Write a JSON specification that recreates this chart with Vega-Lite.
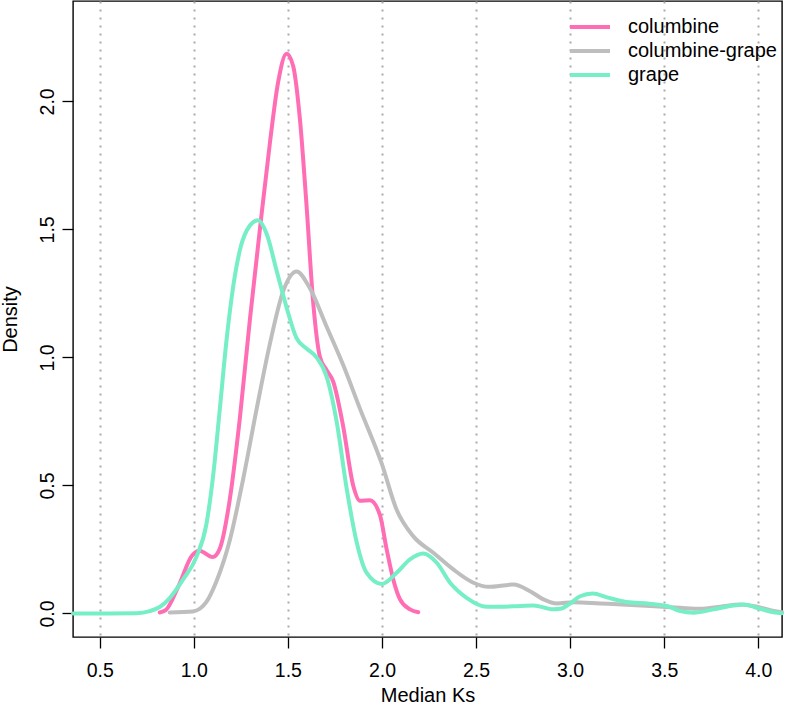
{
  "$schema": "https://vega.github.io/schema/vega-lite/v6.json",
  "width": 709,
  "height": 636,
  "autosize": {"type": "none"},
  "padding": {"left": 73, "top": 1, "right": 3, "bottom": 71},
  "background": "white",
  "config": {
    "view": {"stroke": "black", "strokeWidth": 1.4},
    "font": "Liberation Sans"
  },
  "data": {
    "values": [
      {"ks": 0.819, "density": 0.004, "group": "columbine"},
      {"ks": 0.851, "density": 0.013, "group": "columbine"},
      {"ks": 0.92, "density": 0.109, "group": "columbine"},
      {"ks": 0.99, "density": 0.225, "group": "columbine"},
      {"ks": 1.03, "density": 0.245, "group": "columbine"},
      {"ks": 1.1, "density": 0.22, "group": "columbine"},
      {"ks": 1.138, "density": 0.253, "group": "columbine"},
      {"ks": 1.191, "density": 0.444, "group": "columbine"},
      {"ks": 1.245, "density": 0.764, "group": "columbine"},
      {"ks": 1.298, "density": 1.147, "group": "columbine"},
      {"ks": 1.351, "density": 1.499, "group": "columbine"},
      {"ks": 1.404, "density": 1.835, "group": "columbine"},
      {"ks": 1.448, "density": 2.074, "group": "columbine"},
      {"ks": 1.493, "density": 2.186, "group": "columbine"},
      {"ks": 1.528, "density": 2.138, "group": "columbine"},
      {"ks": 1.564, "density": 1.93, "group": "columbine"},
      {"ks": 1.599, "density": 1.595, "group": "columbine"},
      {"ks": 1.635, "density": 1.21, "group": "columbine"},
      {"ks": 1.67, "density": 1.003, "group": "columbine"},
      {"ks": 1.706, "density": 0.95, "group": "columbine"},
      {"ks": 1.741, "density": 0.905, "group": "columbine"},
      {"ks": 1.794, "density": 0.73, "group": "columbine"},
      {"ks": 1.847, "density": 0.5, "group": "columbine"},
      {"ks": 1.883, "density": 0.44, "group": "columbine"},
      {"ks": 1.936, "density": 0.442, "group": "columbine"},
      {"ks": 1.989, "density": 0.385, "group": "columbine"},
      {"ks": 2.025, "density": 0.25, "group": "columbine"},
      {"ks": 2.06, "density": 0.133, "group": "columbine"},
      {"ks": 2.096, "density": 0.055, "group": "columbine"},
      {"ks": 2.149, "density": 0.016, "group": "columbine"},
      {"ks": 2.193, "density": 0.005, "group": "columbine"},

      {"ks": 0.872, "density": 0.004, "group": "columbine-grape"},
      {"ks": 0.996, "density": 0.008, "group": "columbine-grape"},
      {"ks": 1.067, "density": 0.045, "group": "columbine-grape"},
      {"ks": 1.12, "density": 0.125, "group": "columbine-grape"},
      {"ks": 1.191, "density": 0.285, "group": "columbine-grape"},
      {"ks": 1.262, "density": 0.524, "group": "columbine-grape"},
      {"ks": 1.333, "density": 0.795, "group": "columbine-grape"},
      {"ks": 1.404, "density": 1.052, "group": "columbine-grape"},
      {"ks": 1.475, "density": 1.259, "group": "columbine-grape"},
      {"ks": 1.546, "density": 1.336, "group": "columbine-grape"},
      {"ks": 1.617, "density": 1.27, "group": "columbine-grape"},
      {"ks": 1.706, "density": 1.12, "group": "columbine-grape"},
      {"ks": 1.794, "density": 0.97, "group": "columbine-grape"},
      {"ks": 1.883, "density": 0.8, "group": "columbine-grape"},
      {"ks": 1.998, "density": 0.587, "group": "columbine-grape"},
      {"ks": 2.078, "density": 0.405, "group": "columbine-grape"},
      {"ks": 2.167, "density": 0.301, "group": "columbine-grape"},
      {"ks": 2.273, "density": 0.237, "group": "columbine-grape"},
      {"ks": 2.379, "density": 0.172, "group": "columbine-grape"},
      {"ks": 2.486, "density": 0.12, "group": "columbine-grape"},
      {"ks": 2.566, "density": 0.104, "group": "columbine-grape"},
      {"ks": 2.699, "density": 0.113, "group": "columbine-grape"},
      {"ks": 2.787, "density": 0.087, "group": "columbine-grape"},
      {"ks": 2.858, "density": 0.055, "group": "columbine-grape"},
      {"ks": 2.929, "density": 0.039, "group": "columbine-grape"},
      {"ks": 3.018, "density": 0.044, "group": "columbine-grape"},
      {"ks": 3.16, "density": 0.039, "group": "columbine-grape"},
      {"ks": 3.3, "density": 0.034, "group": "columbine-grape"},
      {"ks": 3.45, "density": 0.028, "group": "columbine-grape"},
      {"ks": 3.585, "density": 0.022, "group": "columbine-grape"},
      {"ks": 3.691, "density": 0.018, "group": "columbine-grape"},
      {"ks": 3.798, "density": 0.026, "group": "columbine-grape"},
      {"ks": 3.904, "density": 0.035, "group": "columbine-grape"},
      {"ks": 3.993, "density": 0.026, "group": "columbine-grape"},
      {"ks": 4.064, "density": 0.013, "group": "columbine-grape"},
      {"ks": 4.126, "density": 0.005, "group": "columbine-grape"},

      {"ks": 0.358, "density": 0.0, "group": "grape"},
      {"ks": 0.55, "density": 0.0, "group": "grape"},
      {"ks": 0.695, "density": 0.001, "group": "grape"},
      {"ks": 0.766, "density": 0.009, "group": "grape"},
      {"ks": 0.819, "density": 0.025, "group": "grape"},
      {"ks": 0.872, "density": 0.06, "group": "grape"},
      {"ks": 0.943, "density": 0.133, "group": "grape"},
      {"ks": 1.014, "density": 0.221, "group": "grape"},
      {"ks": 1.067, "density": 0.349, "group": "grape"},
      {"ks": 1.103, "density": 0.54, "group": "grape"},
      {"ks": 1.138, "density": 0.796, "group": "grape"},
      {"ks": 1.174, "density": 1.068, "group": "grape"},
      {"ks": 1.209, "density": 1.275, "group": "grape"},
      {"ks": 1.245, "density": 1.419, "group": "grape"},
      {"ks": 1.298, "density": 1.515, "group": "grape"},
      {"ks": 1.342, "density": 1.536, "group": "grape"},
      {"ks": 1.387, "density": 1.483, "group": "grape"},
      {"ks": 1.44, "density": 1.339, "group": "grape"},
      {"ks": 1.493, "density": 1.195, "group": "grape"},
      {"ks": 1.546, "density": 1.075, "group": "grape"},
      {"ks": 1.599, "density": 1.035, "group": "grape"},
      {"ks": 1.652, "density": 1.0, "group": "grape"},
      {"ks": 1.706, "density": 0.925, "group": "grape"},
      {"ks": 1.759, "density": 0.75, "group": "grape"},
      {"ks": 1.812, "density": 0.49, "group": "grape"},
      {"ks": 1.865, "density": 0.28, "group": "grape"},
      {"ks": 1.918, "density": 0.159, "group": "grape"},
      {"ks": 1.998, "density": 0.115, "group": "grape"},
      {"ks": 2.078, "density": 0.159, "group": "grape"},
      {"ks": 2.149, "density": 0.211, "group": "grape"},
      {"ks": 2.219, "density": 0.234, "group": "grape"},
      {"ks": 2.291, "density": 0.198, "group": "grape"},
      {"ks": 2.362, "density": 0.12, "group": "grape"},
      {"ks": 2.45, "density": 0.061, "group": "grape"},
      {"ks": 2.556, "density": 0.026, "group": "grape"},
      {"ks": 2.699, "density": 0.028, "group": "grape"},
      {"ks": 2.805, "density": 0.031, "group": "grape"},
      {"ks": 2.911, "density": 0.016, "group": "grape"},
      {"ks": 2.947, "density": 0.018, "group": "grape"},
      {"ks": 3.0, "density": 0.039, "group": "grape"},
      {"ks": 3.053, "density": 0.067, "group": "grape"},
      {"ks": 3.12, "density": 0.078, "group": "grape"},
      {"ks": 3.2, "density": 0.062, "group": "grape"},
      {"ks": 3.3, "density": 0.045, "group": "grape"},
      {"ks": 3.42, "density": 0.038, "group": "grape"},
      {"ks": 3.52, "density": 0.028, "group": "grape"},
      {"ks": 3.585, "density": 0.009, "group": "grape"},
      {"ks": 3.656, "density": 0.003, "group": "grape"},
      {"ks": 3.762, "density": 0.016, "group": "grape"},
      {"ks": 3.869, "density": 0.031, "group": "grape"},
      {"ks": 3.922, "density": 0.035, "group": "grape"},
      {"ks": 4.011, "density": 0.018, "group": "grape"},
      {"ks": 4.082, "density": 0.005, "group": "grape"},
      {"ks": 4.126, "density": 0.001, "group": "grape"}
    ]
  },
  "mark": {"type": "line", "interpolate": "monotone", "strokeWidth": 4, "strokeCap": "round", "strokeJoin": "round"},
  "encoding": {
    "x": {
      "field": "ks",
      "type": "quantitative",
      "title": "Median Ks",
      "scale": {"domain": [0.358, 4.126], "nice": false, "zero": false},
      "axis": {
        "values": [0.5, 1.0, 1.5, 2.0, 2.5, 3.0, 3.5, 4.0],
        "format": ".1f",
        "domain": false,
        "tickColor": "black",
        "tickSize": 11,
        "tickWidth": 1.3,
        "labelFont": "Liberation Sans",
        "labelFontSize": 19.5,
        "labelColor": "black",
        "labelBaseline": "alphabetic",
        "labelPadding": 28,
        "labelFlush": false,
        "grid": true,
        "gridColor": "#aaaaaa",
        "gridDash": [2, 6],
        "gridWidth": 2,
        "titleFont": "Liberation Sans",
        "titleFontSize": 20,
        "titleFontWeight": "normal",
        "titleColor": "black",
        "titleBaseline": "alphabetic",
        "titleY": 64
      }
    },
    "y": {
      "field": "density",
      "type": "quantitative",
      "title": "Density",
      "scale": {"domain": [-0.092, 2.392], "nice": false, "zero": false},
      "axis": {
        "values": [0, 0.5, 1.0, 1.5, 2.0],
        "format": ".1f",
        "domain": false,
        "grid": false,
        "tickColor": "black",
        "tickSize": 11,
        "tickWidth": 1.3,
        "labelFont": "Liberation Sans",
        "labelFontSize": 19.5,
        "labelColor": "black",
        "labelAngle": -90,
        "labelAlign": "center",
        "labelBaseline": "alphabetic",
        "labelPadding": 9,
        "labelFlush": false,
        "titleFont": "Liberation Sans",
        "titleFontSize": 20,
        "titleFontWeight": "normal",
        "titleColor": "black",
        "titleAngle": -90,
        "titleBaseline": "alphabetic",
        "titleX": -57,
        "titleY": 318
      }
    },
    "color": {
      "field": "group",
      "type": "nominal",
      "title": null,
      "scale": {
        "domain": ["columbine", "columbine-grape", "grape"],
        "range": ["#ff6eb4", "#bebebe", "#76eec6"]
      },
      "legend": {
        "orient": "none",
        "legendX": 505,
        "legendY": 14,
        "padding": 0,
        "symbolType": "M-2,0H2",
        "symbolSize": 400,
        "symbolStrokeWidth": 4,
        "labelFont": "Liberation Sans",
        "labelFontSize": 20,
        "labelColor": "black",
        "labelOffset": 26,
        "rowPadding": 2
      }
    }
  }
}
